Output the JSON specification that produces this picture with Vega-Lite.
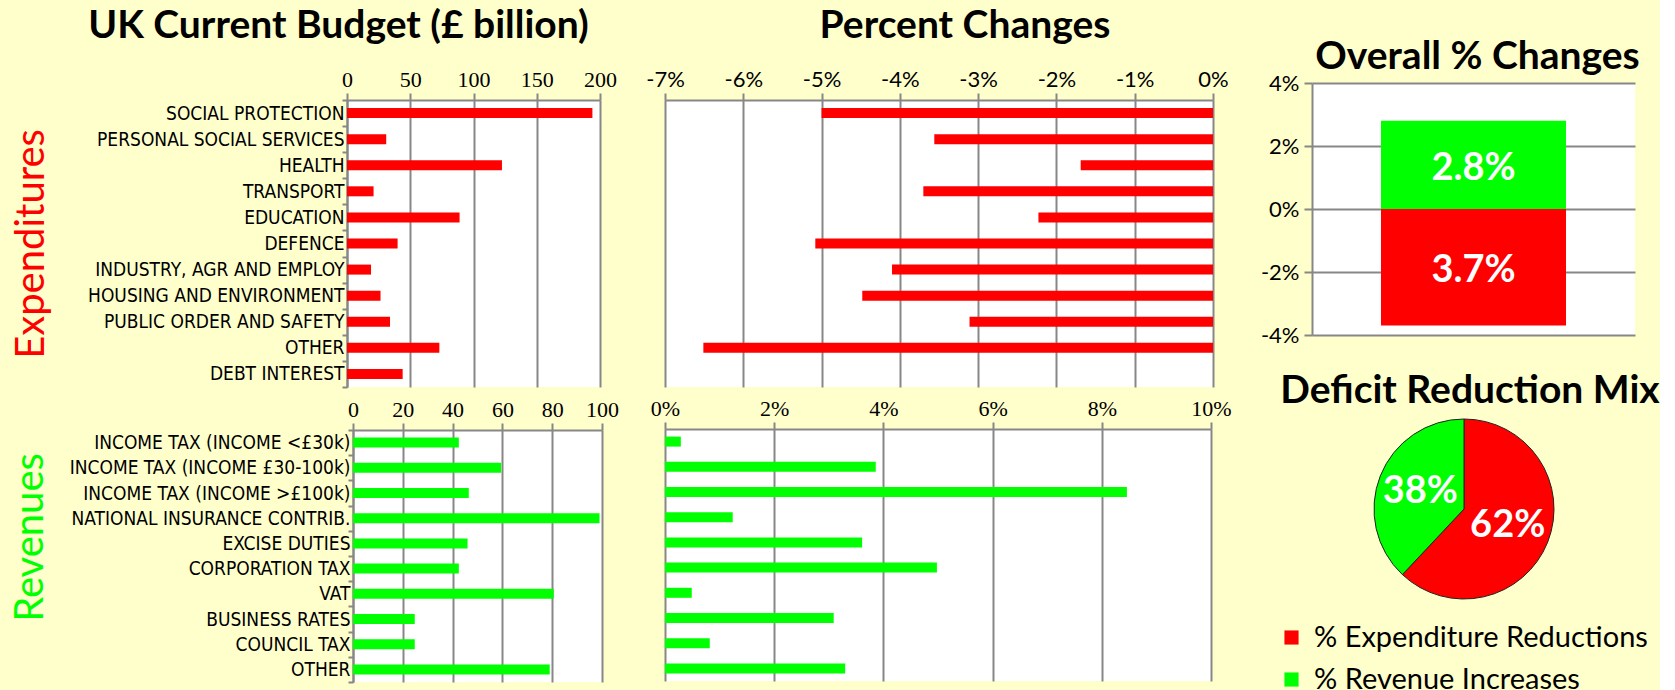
{
  "$schema": "https://vega.github.io/schema/vega-lite/v6.json",
  "background": "#FFFFCC",
  "padding": {"left": 10, "top": 7, "right": 0, "bottom": 0},
  "datasets": {
    "exp": [
      {"category": "SOCIAL PROTECTION", "budget": 194, "change": -5.0},
      {"category": "PERSONAL SOCIAL SERVICES", "budget": 31, "change": -3.56},
      {"category": "HEALTH", "budget": 122.5, "change": -1.69},
      {"category": "TRANSPORT", "budget": 21, "change": -3.7},
      {"category": "EDUCATION", "budget": 89, "change": -2.23},
      {"category": "DEFENCE", "budget": 40, "change": -5.08},
      {"category": "INDUSTRY, AGR AND EMPLOY", "budget": 19, "change": -4.1},
      {"category": "HOUSING AND ENVIRONMENT", "budget": 26.5, "change": -4.48},
      {"category": "PUBLIC ORDER AND SAFETY", "budget": 34, "change": -3.11},
      {"category": "OTHER", "budget": 73, "change": -6.51},
      {"category": "DEBT INTEREST", "budget": 44, "change": 0}
    ],
    "rev": [
      {"category": "INCOME TAX (INCOME <£30k)", "budget": 42.5, "change": 0.29},
      {"category": "INCOME TAX (INCOME £30-100k)", "budget": 59.5, "change": 3.86},
      {"category": "INCOME TAX (INCOME >£100k)", "budget": 46.5, "change": 8.46},
      {"category": "NATIONAL INSURANCE CONTRIB.", "budget": 99, "change": 1.24},
      {"category": "EXCISE DUTIES", "budget": 46, "change": 3.61},
      {"category": "CORPORATION TAX", "budget": 42.5, "change": 4.98},
      {"category": "VAT", "budget": 80.6, "change": 0.49},
      {"category": "BUSINESS RATES", "budget": 24.8, "change": 3.09},
      {"category": "COUNCIL TAX", "budget": 24.8, "change": 0.82},
      {"category": "OTHER", "budget": 79, "change": 3.3}
    ],
    "overall": [
      {"panel": "Overall", "item": "Revenue increases", "value": 2.8, "label": "2.8%"},
      {"panel": "Overall", "item": "Expenditure reductions", "value": -3.7, "label": "3.7%"}
    ],
    "mix": [
      {"part": "% Expenditure Reductions", "share": 62, "label": "62%", "ord": 1},
      {"part": "% Revenue Increases", "share": 38, "label": "38%", "ord": 2}
    ]
  },
  "config": {
    "view": {"fill": "white", "stroke": null},
    "axis": {
      "gridColor": "#878787", "gridWidth": 2,
      "domainColor": "#878787", "domainWidth": 2,
      "tickColor": "#878787", "tickWidth": 2,
      "labelColor": "black", "titleFont": "Lato", "titleFontWeight": "normal",
      "labelOverlap": false, "labelFlush": false
    },
    "title": {"font": "Lato", "fontSize": 39, "fontWeight": "bold", "color": "black", "anchor": "middle"}
  },
  "resolve": {"scale": {"color": "independent"}, "legend": {"color": "independent"}},
  "spacing": 28,
  "hconcat": [
    {
      "spacing": 26,
      "hconcat": [
        {
          "spacing": 10,
          "vconcat": [
            {
              "data": {"name": "exp"},
              "width": 253, "height": 287,
              "title": {"text": "UK Current Budget (£ billion)", "dx": -135, "offset": 22},
              "mark": {"type": "bar", "color": "#FF0000", "size": 10},
              "encoding": {
                "y": {"field": "category", "type": "nominal", "sort": null,
                  "scale": {"paddingInner": 0, "paddingOuter": 0},
                  "axis": {"title": "Expenditures", "titleColor": "#FF0000", "titleFontSize": 40, "titleX": -296,
                    "grid": false, "tickBand": "extent", "tickSize": 5, "labelPadding": -2,
                    "labelFont": "DejaVu Sans Condensed", "labelFontSize": 19, "labelLimit": 0}},
                "x": {"field": "budget", "type": "quantitative",
                  "scale": {"domain": [0, 200], "nice": false},
                  "axis": {"orient": "top", "values": [0, 50, 100, 150, 200], "title": null, "tickSize": 7, "labelPadding": 2,
                    "labelFont": "Liberation Serif", "labelFontSize": 22}}
              }
            },
            {
              "columns": 2,
              "align": "none",
              "spacing": -338,
              "concat": [
                {
                  "data": {"name": "rev"},
                  "width": 1, "height": 1,
                  "view": {"fill": null, "stroke": null},
                  "mark": {"type": "point", "opacity": 0, "size": 0},
                  "encoding": {}
                },
                {
                  "data": {"name": "rev"},
                  "width": 249, "height": 252,
                  "mark": {"type": "bar", "color": "#00FF00", "size": 10},
                  "encoding": {
                    "y": {"field": "category", "type": "nominal", "sort": null,
                      "scale": {"paddingInner": 0, "paddingOuter": 0},
                      "axis": {"title": "Revenues", "titleColor": "#00FF00", "titleFontSize": 40, "titleX": -303, "titleY": 107,
                        "grid": false, "tickBand": "extent", "tickSize": 5, "labelPadding": -2,
                        "labelFont": "DejaVu Sans Condensed", "labelFontSize": 19, "labelLimit": 0}},
                    "x": {"field": "budget", "type": "quantitative",
                      "scale": {"domain": [0, 100], "nice": false},
                      "axis": {"orient": "top", "values": [0, 20, 40, 60, 80, 100], "title": null, "tickSize": 7, "labelPadding": 2,
                        "labelFont": "Liberation Serif", "labelFontSize": 22}}
                  }
                }
              ]
            }
          ]
        },
        {
          "spacing": 10,
          "vconcat": [
            {
              "data": {"name": "exp"},
              "width": 548, "height": 287,
              "title": {"text": "Percent Changes", "dx": 26, "offset": 22},
              "mark": {"type": "bar", "color": "#FF0000", "size": 10},
              "encoding": {
                "y": {"field": "category", "type": "nominal", "sort": null,
                  "scale": {"paddingInner": 0, "paddingOuter": 0}, "axis": null},
                "x": {"field": "change", "type": "quantitative",
                  "scale": {"domain": [-7, 0], "nice": false},
                  "axis": {"orient": "top", "values": [-7, -6, -5, -4, -3, -2, -1, 0], "labelExpr": "datum.value + '%'",
                    "title": null, "tickSize": 7, "labelPadding": 2, "labelFont": "Lato", "labelFontSize": 22}}
              }
            },
            {
              "data": {"name": "rev"},
              "width": 546, "height": 252,
              "mark": {"type": "bar", "color": "#00FF00", "size": 10},
              "encoding": {
                "y": {"field": "category", "type": "nominal", "sort": null,
                  "scale": {"paddingInner": 0, "paddingOuter": 0}, "axis": null},
                "x": {"field": "change", "type": "quantitative",
                  "scale": {"domain": [0, 10], "nice": false},
                  "axis": {"orient": "top", "values": [0, 2, 4, 6, 8, 10], "labelExpr": "datum.value + '%'",
                    "title": null, "tickSize": 7, "labelPadding": 2, "labelFont": "Liberation Serif", "labelFontSize": 22}}
              }
            }
          ]
        }
      ]
    },
    {
      "columns": 1,
      "align": "none",
      "spacing": -63,
      "resolve": {"scale": {"color": "independent"}, "legend": {"color": "independent"}},
      "concat": [
        {
          "data": {"name": "overall"},
          "width": 10, "height": 1,
          "view": {"fill": null, "stroke": null},
          "mark": {"type": "point", "opacity": 0, "size": 0},
          "encoding": {}
        },
        {
          "spacing": 26,
          "resolve": {"scale": {"color": "independent"}, "legend": {"color": "independent"}},
          "vconcat": [
            {
              "data": {"name": "overall"},
              "width": 323, "height": 252,
              "title": {"text": "Overall % Changes", "dx": 4, "offset": -5},
              "encoding": {
                "x": {"field": "panel", "type": "nominal", "axis": null}
              },
              "layer": [
                {
                  "mark": {"type": "bar", "size": 185},
                  "encoding": {
                    "y": {"field": "value", "type": "quantitative", "stack": null,
                      "scale": {"domain": [-4, 4], "nice": false},
                      "axis": {"values": [-4, -2, 0, 2, 4], "labelExpr": "datum.value + '%'", "title": null,
                        "tickSize": 8, "labelPadding": 5, "labelFont": "Lato", "labelFontSize": 22}},
                    "color": {"condition": {"test": "datum.value > 0", "value": "#00FF00"}, "value": "#FF0000"}
                  }
                },
                {
                  "transform": [{"filter": "datum.value > 0"}],
                  "mark": {"type": "text", "dy": 48, "font": "Lato", "fontSize": 38, "fontWeight": "bold", "color": "white"},
                  "encoding": {
                    "y": {"field": "value", "type": "quantitative"},
                    "text": {"field": "label"}
                  }
                },
                {
                  "transform": [{"filter": "datum.value < 0"}],
                  "mark": {"type": "text", "dy": -55, "font": "Lato", "fontSize": 38, "fontWeight": "bold", "color": "white"},
                  "encoding": {
                    "y": {"field": "value", "type": "quantitative"},
                    "text": {"field": "label"}
                  }
                }
              ]
            },
            {
              "data": {"name": "mix"},
              "width": 304, "height": 180,
              "view": {"fill": null, "stroke": null},
              "title": {"text": "Deficit Reduction Mix", "dx": 6, "offset": 6},
              "layer": [
                {
                  "mark": {"type": "arc", "outerRadius": 90, "stroke": "#222222", "strokeWidth": 1},
                  "encoding": {
                    "theta": {"field": "share", "type": "quantitative", "stack": true},
                    "order": {"field": "ord"},
                    "color": {"field": "part", "type": "nominal",
                      "scale": {"domain": ["% Expenditure Reductions", "% Revenue Increases"], "range": ["#FF0000", "#00FF00"]},
                      "legend": {"orient": "none", "legendX": -35, "legendY": 204, "title": null,
                        "symbolType": "square", "symbolSize": 200, "symbolStrokeWidth": 0, "labelLimit": 0,
                        "labelFont": "Lato", "labelFontSize": 29, "labelColor": "black", "labelOffset": 8, "rowPadding": 12}}
                  }
                },
                {
                  "mark": {"type": "text", "radius": 47, "font": "Lato", "fontSize": 38, "fontWeight": "bold", "color": "white"},
                  "encoding": {
                    "theta": {"field": "share", "type": "quantitative", "stack": true},
                    "order": {"field": "ord"},
                    "text": {"field": "label"}
                  }
                }
              ]
            }
          ]
        }
      ]
    }
  ]
}
